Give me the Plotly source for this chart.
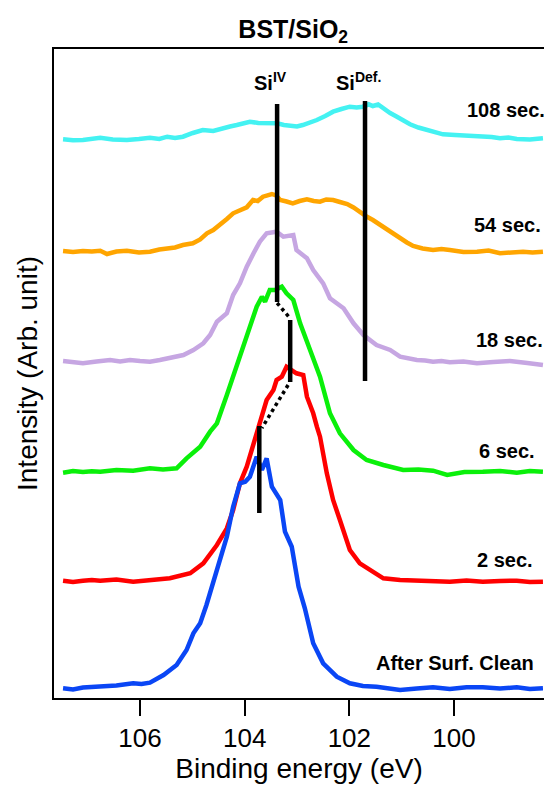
import plotly.graph_objects as go

# ---------------- data (binding energy in eV, intensity in arb. units incl. vertical offset) ----------
e_108 = [107.47,107.28,107.09,106.92,106.76,106.52,106.25,106.02,105.81,105.63,105.48,105.33,105.18,104.99,104.80,104.60,104.41,104.28,104.15,104.02,103.90,103.74,103.57,103.38,103.25,103.13,103.00,102.89,102.75,102.62,102.46,102.31,102.15,101.99,101.86,101.74,101.63,101.55,101.45,101.36,101.22,101.09,100.97,100.84,100.68,100.52,100.36,100.21,99.98,99.75,99.60,99.45,99.28,99.12,98.96,98.80,98.55,98.30]
i_108 = [558.7,557.7,558.0,559.5,560.3,558.5,558.0,559.0,560.3,559.0,561.3,560.0,561.3,565.0,568.0,567.0,569.0,571.5,573.0,574.5,576.3,575.0,574.7,574.7,573.0,572.3,571.5,573.0,575.5,578.0,582.0,586.3,589.0,591.3,590.5,591.3,593.7,592.0,593.5,589.7,585.0,581.3,577.5,573.7,570.5,568.0,565.5,563.7,563.0,562.3,562.5,561.3,561.0,559.7,560.5,559.0,558.5,559.7]

e_54 = [107.47,107.28,107.09,106.92,106.76,106.63,106.45,106.25,106.02,105.81,105.63,105.48,105.33,105.18,104.99,104.85,104.72,104.60,104.47,104.34,104.22,104.09,103.96,103.84,103.75,103.65,103.48,103.40,103.32,103.20,103.08,102.95,102.81,102.68,102.56,102.44,102.31,102.18,102.04,101.92,101.80,101.67,101.55,101.41,101.28,101.15,101.03,100.90,100.78,100.60,100.40,100.24,100.08,99.82,99.56,99.34,99.12,98.90,98.68,98.50,98.30]
i_54 = [447.0,446.0,447.0,446.5,447.3,444.0,446.5,447.3,445.5,446.3,448.5,449.7,450.5,453.0,454.7,458.5,464.7,468.0,473.0,479.0,484.7,488.0,490.7,498.0,497.0,501.3,504.0,502.5,498.0,496.5,494.7,497.0,498.7,497.0,496.3,498.5,498.0,496.0,494.0,490.5,485.7,481.5,478.0,473.0,468.0,464.0,459.7,455.5,452.0,449.5,448.0,449.0,448.0,446.0,446.3,447.5,444.7,446.0,446.3,445.5,446.3]

e_18 = [107.47,107.28,107.09,106.83,106.57,106.38,106.19,106.00,105.81,105.62,105.43,105.17,104.98,104.79,104.66,104.53,104.34,104.22,104.09,103.96,103.83,103.71,103.58,103.39,103.26,103.07,103.01,102.81,102.69,102.50,102.37,102.11,101.92,101.73,101.48,101.22,101.03,100.87,100.71,100.55,100.40,100.24,100.08,99.82,99.56,99.25,98.93,98.60,98.30]
i_18 = [337.0,335.5,334.7,336.5,338.0,336.5,338.0,337.0,336.3,338.0,339.7,343.0,348.0,354.7,363.0,376.3,384.7,403.0,414.7,431.3,444.7,456.3,464.7,466.3,461.3,463.0,448.0,439.7,428.0,414.7,399.7,389.7,374.7,363.0,353.0,348.0,341.3,339.5,338.0,337.5,336.3,337.0,335.7,336.5,334.7,336.0,337.0,335.0,333.0]

e_6 = [107.47,107.28,107.09,106.92,106.76,106.45,106.13,105.97,105.81,105.56,105.30,105.11,104.85,104.66,104.53,104.34,104.22,104.06,103.93,103.77,103.67,103.61,103.52,103.42,103.29,103.20,103.07,102.94,102.75,102.56,102.37,102.18,101.92,101.67,101.35,101.16,100.97,100.68,100.40,100.13,99.80,99.45,99.12,98.80,98.55,98.30]
i_6 = [225.3,227.0,226.0,226.8,226.3,228.0,227.3,228.5,229.7,228.5,229.7,239.7,251.3,266.3,274.7,303.0,321.3,348.0,368.0,391.3,401.3,396.3,408.0,408.0,411.3,404.7,398.0,374.7,348.0,321.3,284.7,264.7,248.0,238.0,233.0,230.0,228.0,228.5,227.3,223.0,226.0,226.3,227.0,225.3,227.0,226.3]

e_2 = [107.47,107.28,107.09,106.92,106.76,106.45,106.13,105.97,105.81,105.62,105.43,105.04,104.79,104.53,104.34,104.22,104.09,103.96,103.83,103.71,103.58,103.45,103.39,103.29,103.20,103.01,102.88,102.81,102.69,102.62,102.56,102.43,102.31,102.18,101.99,101.80,101.60,101.35,101.03,100.71,100.40,100.08,99.76,99.45,99.12,98.80,98.55,98.30]
i_2 = [117.3,116.0,117.3,118.0,117.3,118.5,116.3,117.0,117.3,118.5,119.7,124.7,134.7,153.0,169.7,188.0,214.7,231.3,254.7,278.0,298.0,308.0,318.0,321.3,331.3,324.7,323.0,301.3,284.7,271.3,261.3,224.7,198.0,178.0,148.0,134.7,128.0,119.7,118.0,117.3,116.0,116.3,117.5,116.3,117.0,117.3,116.0,116.3]

e_clean = [107.47,107.28,107.09,106.92,106.76,106.45,106.13,105.97,105.81,105.55,105.30,105.11,104.98,104.85,104.73,104.60,104.47,104.34,104.22,104.09,103.99,103.90,103.77,103.67,103.58,103.48,103.32,103.23,103.10,102.97,102.85,102.69,102.50,102.24,101.99,101.74,101.48,101.22,101.03,100.71,100.40,100.08,99.76,99.45,99.12,98.80,98.55,98.30]
i_clean = [9.7,8.5,10.5,11.0,12.0,12.5,14.7,14.0,15.3,23.0,33.0,48.0,64.7,74.7,93.0,114.7,138.0,161.3,191.3,214.7,216.3,221.3,241.3,228.0,239.7,211.3,198.0,166.3,151.3,111.3,89.7,54.7,34.7,21.3,14.7,12.0,11.3,10.0,8.0,9.5,10.7,9.0,10.7,10.7,9.5,10.7,9.0,9.7]

series_names = ["108 sec.", "54 sec.", "18 sec.", "6 sec.", "2 sec.", "After Surf. Clean"]
series_colors = ["#44F2F2", "#FFA500", "#C6A6E2", "#0AF00A", "#FF0000", "#0A46F5"]
series_e = [e_108, e_54, e_18, e_6, e_2, e_clean]
series_i = [i_108, i_54, i_18, i_6, i_2, i_clean]

# curve label positions (left edge energy, vertical centre)
label_e = [99.79, 99.66, 99.62, 99.56, 99.60, 101.53]
label_i = [588.0, 473.0, 358.0, 247.0, 138.0, 35.0]

# peak marker lines: (energy, intensity start, intensity end)
marker_e = [103.38, 101.70, 103.13, 103.72]
marker_i0 = [594.0, 597.0, 378.0, 272.0]
marker_i1 = [396.0, 317.0, 316.0, 185.0]
# dotted connectors
conn_e0 = [103.38, 103.17]
conn_i0 = [395.0, 313.0]
conn_e1 = [103.12, 103.67]
conn_i1 = [379.0, 270.0]

peak_names = ["Si<sup>IV</sup>", "Si<sup>Def.</sup>"]
peak_e = [103.50, 101.82]
peak_i = [617.0, 617.0]

x_ticks = [106, 104, 102, 100]
x_range = [107.643, 98.28]
y_range = [0, 649]

FONT = "Liberation Sans, Arial, Helvetica, sans-serif"

fig = go.Figure()
for name, col, ev, iv in zip(series_names, series_colors, series_e, series_i):
    fig.add_trace(go.Scatter(x=ev, y=iv, mode="lines", name=name,
                             line=dict(color=col, width=4.5), showlegend=False))

for ex, a, b in zip(marker_e, marker_i0, marker_i1):
    fig.add_trace(go.Scatter(x=[ex, ex], y=[a, b], mode="lines",
                             line=dict(color="black", width=4.5), showlegend=False))
for a, b, c, d in zip(conn_e0, conn_i0, conn_e1, conn_i1):
    fig.add_trace(go.Scatter(x=[a, c], y=[b, d], mode="lines",
                             line=dict(color="black", width=3.5, dash="dot"), showlegend=False))

for name, ex, iy in zip(series_names, label_e, label_i):
    fig.add_annotation(x=ex, y=iy, text=name, showarrow=False, xanchor="left", yanchor="middle",
                       font=dict(family=FONT, size=20, color="black", weight="bold"))
for name, ex, iy in zip(peak_names, peak_e, peak_i):
    fig.add_annotation(x=ex, y=iy, text=name, showarrow=False, xanchor="center", yanchor="middle",
                       font=dict(family=FONT, size=20, color="black", weight="bold"))

fig.update_layout(
    width=544, height=786,
    margin=dict(l=54, r=0, t=49, b=88),
    paper_bgcolor="white", plot_bgcolor="white",
    title=dict(text="BST/SiO<sub>2</sub>", x=0.539, xanchor="center", y=0.963, yanchor="middle",
               font=dict(family=FONT, size=25, color="black", weight="bold")),
    xaxis=dict(range=x_range, tickvals=x_ticks, ticks="outside", ticklen=16, tickwidth=2,
               tickcolor="black", showline=True, linewidth=2, linecolor="black", mirror=True,
               showgrid=False, zeroline=False,
               tickfont=dict(family=FONT, size=26, color="black"),
               title=dict(text="Binding energy (eV)", standoff=0,
                          font=dict(family=FONT, size=28, color="black"))),
    yaxis=dict(range=y_range, showticklabels=False, ticks="", showline=True, linewidth=2,
               linecolor="black", showgrid=False, zeroline=False,
               title=dict(text="Intensity (Arb. unit)", standoff=6,
                          font=dict(family=FONT, size=28, color="black"))),
)

fig.write_html("out.html", config={"displayModeBar": False},
               post_script="document.body.style.margin='0';document.body.style.overflow='hidden';")
